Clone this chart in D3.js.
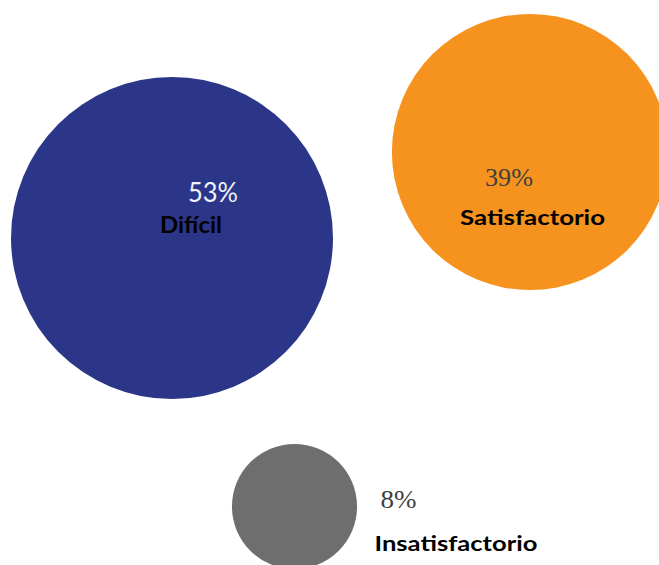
<!DOCTYPE html>
<meta charset="utf-8">
<style type="text/css">
body { margin: 0; background: #ffffff; }
.pct { font-family: "Liberation Serif", serif; }
.lbl { font-family: Lato, "Open Sans", sans-serif; font-weight: bold; fill: #000000; }
</style>
<body>
<div class="g-chart"></div>
<script src="https://cdnjs.cloudflare.com/ajax/libs/d3/7.8.5/d3.min.js"></script>
<script type="text/javascript">

// data
var categories = ["Difícil", "Satisfactorio", "Insatisfactorio"];
var values = [53, 39, 8];
var pctLabels = ["53%", "39%", "8%"];

// layout (circle centres and label offsets)
var centers = [[172, 238], [530, 152], [294.5, 506.5]];
var colors = ["#2c3689", "#f6931f", "#6e6e6e"];
var pctStyle = [
  {dx: 16, dy: -36, size: 26, fill: "#eef2fb", font: "Lato, sans-serif", w: 50},
  {dx: -45, dy: 34, size: 25, fill: "#3f3f3f", font: "Liberation Serif, serif", w: 48},
  {dx: 86, dy: 1.5, size: 26, fill: "#3f3f3f", font: "Liberation Serif, serif", w: 36}
];
var lblStyle = [
  {dx: -12, dy: -5, size: 22, w: 62},
  {dx: -70, dy: 73, size: 21, w: 145},
  {dx: 80, dy: 44.5, size: 21, w: 163}
];

var width = 659, height = 565;

var svg = d3.select(".g-chart").append("svg")
  .attr("width", width)
  .attr("height", height);

//radius by area
var r = d3.scaleSqrt()
  .domain([0, d3.max(values)])
  .range([0, 161]);

var g = svg.selectAll("g.bubble")
  .data(values)
  .enter().append("g")
  .attr("class", "bubble")
  .attr("transform", function(d, i) { return "translate(" + centers[i][0] + "," + centers[i][1] + ")"; });

g.append("circle")
  .attr("r", function(d) { return r(d); })
  .style("fill", function(d, i) { return colors[i]; });

g.append("text")
  .attr("class", "pct")
  .attr("x", function(d, i) { return pctStyle[i].dx; })
  .attr("y", function(d, i) { return pctStyle[i].dy; })
  .style("font-family", function(d, i) { return pctStyle[i].font; })
  .style("font-size", function(d, i) { return pctStyle[i].size + "px"; })
  .style("fill", function(d, i) { return pctStyle[i].fill; })
  .attr("textLength", function(d, i) { return pctStyle[i].w; })
  .attr("lengthAdjust", "spacingAndGlyphs")
  .text(function(d, i) { return pctLabels[i]; });

g.append("text")
  .attr("class", "lbl")
  .attr("x", function(d, i) { return lblStyle[i].dx; })
  .attr("y", function(d, i) { return lblStyle[i].dy; })
  .style("font-size", function(d, i) { return lblStyle[i].size + "px"; })
  .attr("textLength", function(d, i) { return lblStyle[i].w; })
  .attr("lengthAdjust", "spacingAndGlyphs")
  .text(function(d, i) { return categories[i]; });

</script>
</body>
